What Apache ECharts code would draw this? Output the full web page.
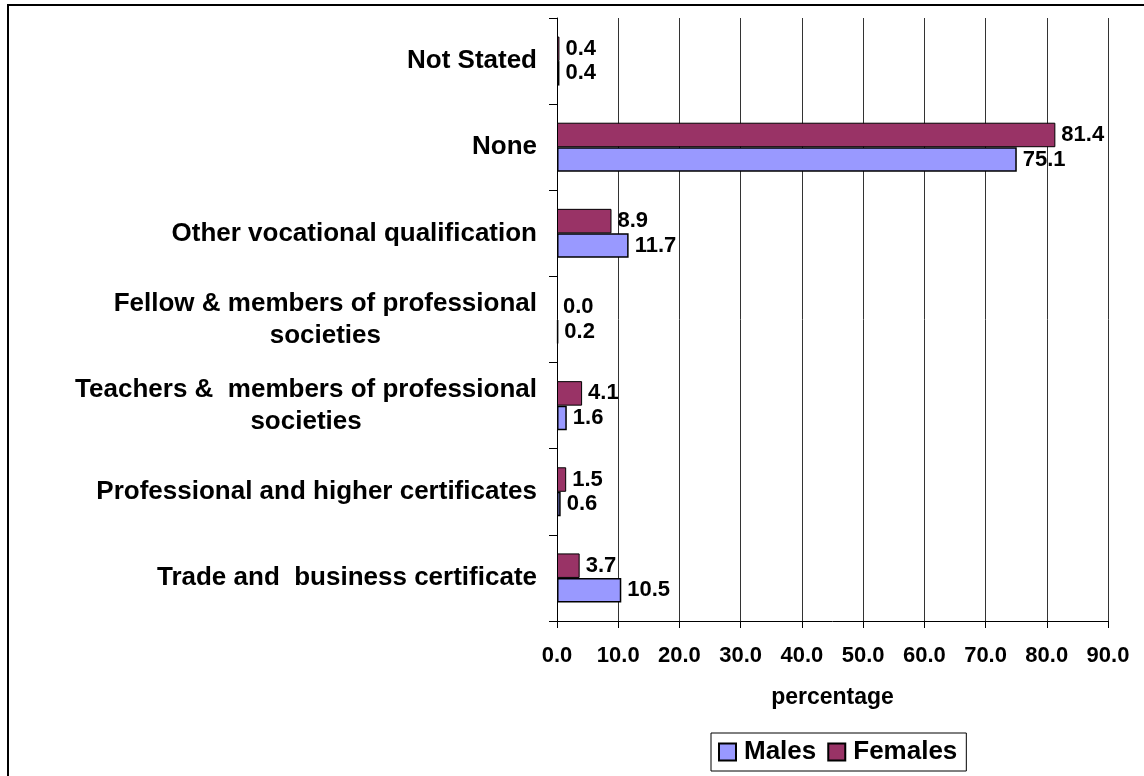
<!DOCTYPE html>
<html>
<head>
<meta charset="utf-8">
<script src="https://cdn.jsdelivr.net/npm/echarts@6/dist/echarts.min.js"></script>
<style>
  html, body { margin: 0; padding: 0; background: #fff; }
  #chart { width: 1144px; height: 776px; }
</style>
</head>
<body>
<div id="chart"></div>
<script>
// categories, bottom to top as the axis draws them
var categories = [
  "Trade and  business certificate",
  "Professional and higher certificates",
  "Teachers &  members of professional\nsocieties",
  "Fellow & members of professional\nsocieties",
  "Other vocational qualification",
  "None",
  "Not Stated"
];
var males = [10.5, 0.6, 1.6, 0.2, 11.7, 75.1, 0.4];
var females = [3.7, 1.5, 4.1, 0.0, 8.9, 81.4, 0.4];
var xTicks = { min: 0, max: 90, interval: 10 };

var font = "'Liberation Sans', Arial, sans-serif";

var myChart = echarts.init(document.getElementById("chart"));

function barLabel() {
  return {
    show: true,
    position: "right",
    distance: 6,
    color: "#000",
    fontFamily: font,
    fontWeight: "bold",
    fontSize: 22,
    formatter: function (p) { return p.value.toFixed(1); }
  };
}

// zero bars get no outline (Excel draws nothing for them)
function barData(arr) {
  return arr.map(function (v) {
    return v === 0 ? { value: v, itemStyle: { borderWidth: 0 } } : v;
  });
}

var option = {
  backgroundColor: "#fff",
  animation: false,
  graphic: [{
    type: "rect",
    z: -10,
    shape: { x: 8, y: 5, width: 1200, height: 800 },
    style: { fill: "none", stroke: "#000", lineWidth: 2 }
  }],
  grid: { left: 557, right: 36, top: 18, bottom: 155 },
  legend: {
    data: ["Males", "Females"],
    left: 711,
    top: 733,
    orient: "horizontal",
    icon: "rect",
    itemWidth: 17,
    itemHeight: 17,
    itemGap: 11,
    padding: [6, 9, 6, 7],
    borderColor: "#000",
    borderWidth: 1,
    textStyle: { color: "#000", fontFamily: font, fontWeight: "bold", fontSize: 26, padding: [0, 0, 0, 3] }
  },
  xAxis: {
    type: "value",
    min: xTicks.min,
    max: xTicks.max,
    interval: xTicks.interval,
    name: "percentage",
    nameLocation: "middle",
    nameGap: 65,
    nameTextStyle: { color: "#000", fontFamily: font, fontWeight: "bold", fontSize: 23 },
    axisLine: { show: true, lineStyle: { color: "#000", width: 1 } },
    axisTick: { show: true, length: 7, lineStyle: { color: "#000" } },
    axisLabel: {
      margin: 24,
      color: "#000",
      fontFamily: font,
      fontWeight: "bold",
      fontSize: 22,
      formatter: function (v) { return v.toFixed(1); }
    },
    splitLine: { show: true, lineStyle: { color: "#333", width: 1 } }
  },
  yAxis: {
    type: "category",
    data: categories,
    axisLine: { show: true, lineStyle: { color: "#000", width: 1 } },
    axisTick: { show: true, length: 8, lineStyle: { color: "#000" } },
    axisLabel: {
      margin: 20,
      color: "#000",
      fontFamily: font,
      fontWeight: "bold",
      fontSize: 26,
      lineHeight: 32,
      formatter: function (v) {
        return v.split("\n").map(function (s) { return "{c|" + s + "}"; }).join("\n");
      },
      rich: {
        c: { align: "center", color: "#000", fontFamily: font, fontWeight: "bold", fontSize: 26, lineHeight: 32 }
      }
    },
    splitLine: { show: false }
  },
  series: [
    {
      name: "Females",
      type: "bar",
      barWidth: 24.5,
      barGap: "0%",
      itemStyle: { color: "#993366", borderColor: "#000", borderWidth: 1 },
      label: barLabel(),
      data: barData(females)
    },
    {
      name: "Males",
      type: "bar",
      barWidth: 24.5,
      barGap: "0%",
      itemStyle: { color: "#9999FF", borderColor: "#000", borderWidth: 1.5 },
      label: barLabel(),
      data: barData(males)
    }
  ]
};
myChart.setOption(option);
</script>
</body>
</html>
